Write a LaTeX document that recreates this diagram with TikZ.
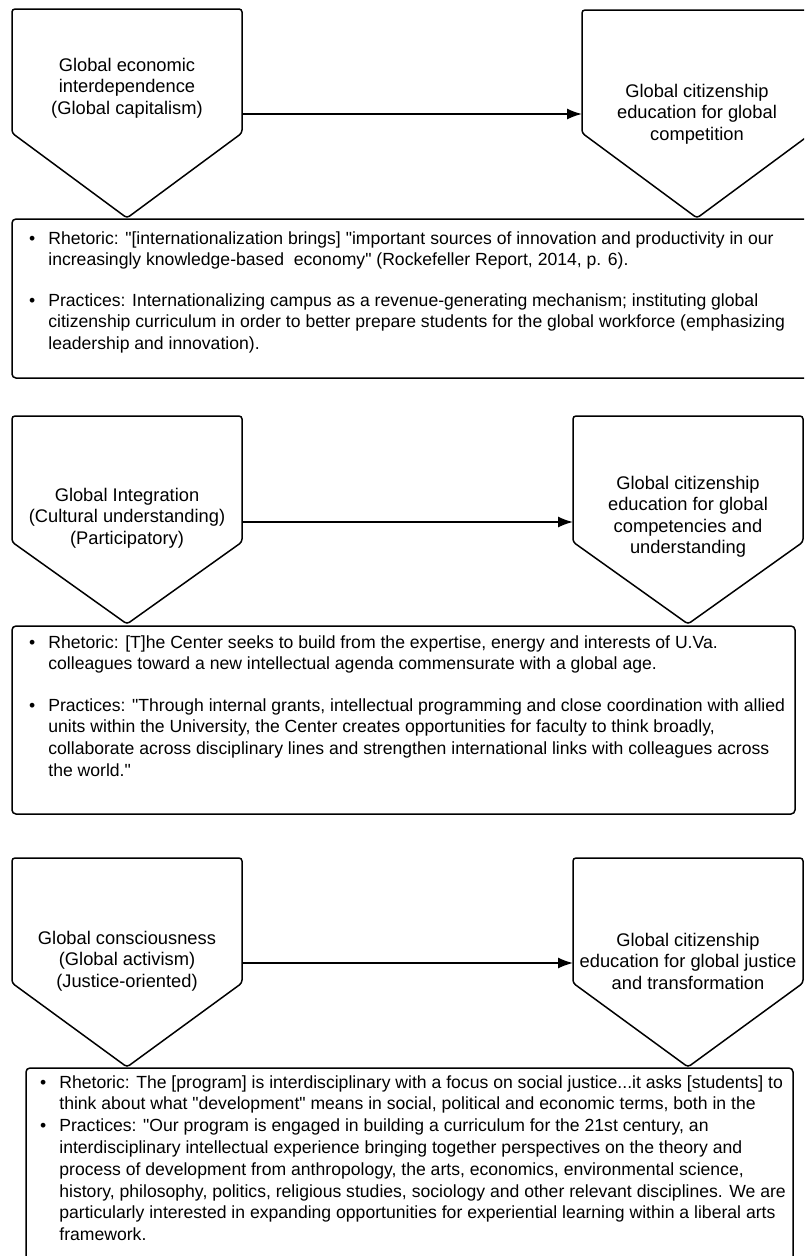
\documentclass[tikz,border=0pt]{standalone}
\usepackage{fontspec}
\setmainfont{Liberation Sans}
\usetikzlibrary{arrows.meta}

\tikzset{
  pent/.style={draw,line width=1.5pt,rounded corners=3pt},
  infobox/.style={draw,line width=1.5pt,rounded corners=4pt},
  tagtext/.style={align=center,font=\fontsize{18.3}{21.5}\selectfont},
  bodytext/.style={anchor=base west,inner sep=0pt,font=\fontsize{17.6}{21.8}\selectfont},
  link/.style={line width=1.5pt,-{Latex[length=15pt,width=11pt]}}
}
\newcommand\pentagon[4]{%
  \draw[pent] (#1,#3) -- (#1,#2) -- (#1+230,#2) -- (#1+230,#3) -- (#1+115,#4) -- cycle;}
\newcommand\bul[1]{\begin{tabular}[t]{@{}l@{\hspace{13pt}}l@{}}#1\end{tabular}}
\newcommand\q{\textquotedbl}

\begin{document}
\begin{tikzpicture}[x=1pt,y=-1pt]
  \clip (0,0) rectangle (804,1256);

  \pentagon{12}{9}{133}{218}
  \pentagon{582}{10}{133}{218}
  \node[tagtext] (econ) at (127,88) {Global economic\\interdependence\\(Global capitalism)};
  \node[tagtext] (compet) at (697,114) {Global citizenship\\education for global\\competition};
  \coordinate (econR) at (242,114);
  \coordinate (competL) at (582,114);
  \draw[link] (econR) -- (competL);
  \draw[infobox] (12,219) rectangle (812,378);
  \node[bodytext] (rhet1) at (29,244) {\bul{%
    \textbullet & Rhetoric: \q[internationalization brings] \q important sources of innovation and productivity in our\\
    & increasingly knowledge-based\ \ economy\q\ (Rockefeller Report, 2014, p. 6).}};
  \node[bodytext] (prac1) at (29,306) {\bul{%
    \textbullet & Practices: Internationalizing campus as a revenue-generating mechanism; instituting global\\
    & citizenship curriculum in order to better prepare students for the global workforce (emphasizing\\
    & leadership and innovation).}};

  \pentagon{12}{416}{542}{624}
  \pentagon{573}{416}{542}{624}
  \node[tagtext] (integ) at (127,518) {Global Integration\\(Cultural understanding)\\(Participatory)};
  \node[tagtext] (compt) at (688,517) {Global citizenship\\education for global\\competencies and\\understanding};
  \coordinate (integR) at (242,522);
  \coordinate (comptL) at (573,522);
  \draw[link] (integR) -- (comptL);
  \draw[infobox] (12,626) rectangle (795,814);
  \node[bodytext] (rhet2) at (29,648) {\bul{%
    \textbullet & Rhetoric: [T]he Center seeks to build from the expertise, energy and interests of U.Va.\\
    & colleagues toward a new intellectual agenda commensurate with a global age.}};
  \node[bodytext] (prac2) at (29,711) {\bul{%
    \textbullet & Practices: \q Through internal grants, intellectual programming and close coordination with allied\\
    & units within the University, the Center creates opportunities for faculty to think broadly,\\
    & collaborate across disciplinary lines and strengthen international links with colleagues across\\
    & the world.\q}};

  \pentagon{12}{858}{983}{1067}
  \pentagon{573}{858}{983}{1067}
  \node[tagtext] (consc) at (127,961) {Global consciousness\\(Global activism)\\(Justice-oriented)};
  \node[tagtext] (justice) at (688,961) {Global citizenship\\education for global justice\\and transformation};
  \coordinate (conscR) at (242,963);
  \coordinate (justiceL) at (573,963);
  \draw[link] (conscR) -- (justiceL);
  \draw[infobox] (26,1068) rectangle (793,1290);
  \node[bodytext] (rhet3) at (40,1088) {\bul{%
    \textbullet & Rhetoric: The [program] is interdisciplinary with a focus on social justice...it asks [students] to\\
    & think about what \q development\q\ means in social, political and economic terms, both in the\\
    \textbullet & Practices: \q Our program is engaged in building a curriculum for the 21st century, an\\
    & interdisciplinary intellectual experience bringing together perspectives on the theory and\\
    & process of development from anthropology, the arts, economics, environmental science,\\
    & history, philosophy, politics, religious studies, sociology and other relevant disciplines. We are\\
    & particularly interested in expanding opportunities for experiential learning within a liberal arts\\
    & framework.}};
\end{tikzpicture}
\end{document}
